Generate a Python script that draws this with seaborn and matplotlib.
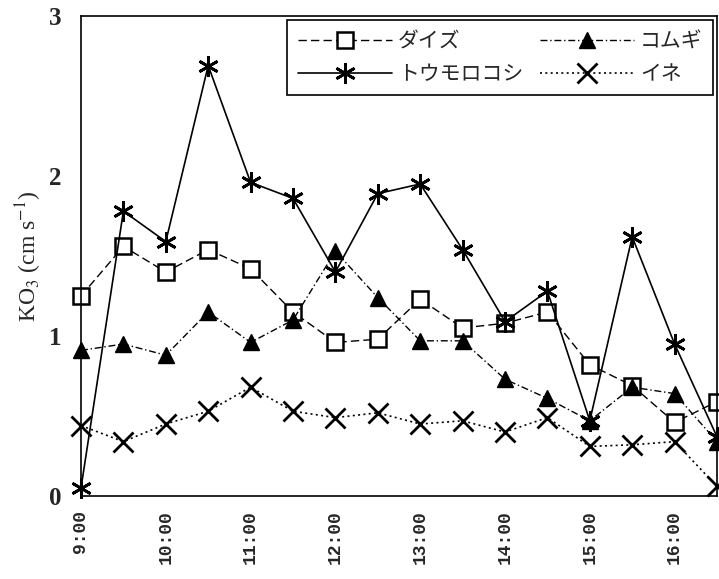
import matplotlib
matplotlib.use("Agg")
import matplotlib.pyplot as plt
import seaborn as sns
import pandas as pd

# ---- data ----
hours = [9.0, 9.5, 10.0, 10.5, 11.0, 11.5, 12.0, 12.5, 13.0, 13.5, 14.0, 14.5, 15.0, 15.5, 16.0, 16.5]
tick_hours = [9, 10, 11, 12, 13, 14, 15, 16]
tick_labels = ["9:00", "10:00", "11:00", "12:00", "13:00", "14:00", "15:00", "16:00"]
series_names = ["ダイズ", "コムギ", "トウモロコシ", "イネ"]
daizu = [1.25, 1.56, 1.40, 1.54, 1.42, 1.15, 0.96, 0.98, 1.23, 1.05, 1.08, 1.15, 0.82, 0.69, 0.46, 0.59]
komugi = [0.91, 0.95, 0.88, 1.15, 0.96, 1.10, 1.53, 1.24, 0.97, 0.97, 0.73, 0.61, 0.47, 0.68, 0.64, 0.34]
tomorokoshi = [0.05, 1.78, 1.59, 2.69, 1.96, 1.86, 1.40, 1.89, 1.95, 1.54, 1.09, 1.28, 0.47, 1.62, 0.95, 0.37]
ine = [0.44, 0.34, 0.45, 0.53, 0.68, 0.53, 0.49, 0.52, 0.45, 0.47, 0.40, 0.49, 0.31, 0.32, 0.34, 0.06]
y_ticks = [0, 1, 2, 3]

values = [daizu, komugi, tomorokoshi, ine]

sns.set_style("white")
plt.rcParams["font.family"] = ["Noto Sans CJK JP", "DejaVu Sans"]
plt.rcParams["mathtext.fontset"] = "stix"

fig = plt.figure(figsize=(7.19, 5.79), dpi=100)
ax = fig.add_axes([81 / 719, 83 / 579, 636 / 719, 480 / 579])

styles = [
    dict(linestyle=(0, (6, 3)), marker="s", markersize=11, markerfacecolor="white",
         markeredgecolor="black", markeredgewidth=1.8, linewidth=1.0),
    dict(linestyle=(0, (5, 2, 1, 2)), marker="^", markersize=11, markerfacecolor="black",
         markeredgecolor="black", markeredgewidth=1.0, linewidth=1.0),
    dict(linestyle="-", marker=(6, 2, 0), markersize=15, markerfacecolor="black",
         markeredgecolor="black", markeredgewidth=2.0, linewidth=1.2),
    dict(linestyle=(0, (1.2, 2)), marker="x", markersize=14, markerfacecolor="black",
         markeredgecolor="black", markeredgewidth=2.0, linewidth=1.2),
]

for name, vals, st in zip(series_names, values, styles):
    df = pd.DataFrame({"time": hours, "KO3": vals})
    sns.lineplot(data=df, x="time", y="KO3", ax=ax, color="black", label=name,
                 clip_on=False, **st)

ax.set_xlim(9.0, 16.5)
ax.set_ylim(0, 3)
ax.set_xticks(hours)
ax.set_xticklabels([tick_labels[tick_hours.index(int(h))] if float(h).is_integer() else "" for h in hours],
                   rotation=90, family="Liberation Mono", fontweight="bold", fontsize=13)
ax.set_yticks(y_ticks)
ax.set_yticklabels([str(v) for v in y_ticks], family="Liberation Serif", fontweight="bold", fontsize=18)
ax.tick_params(axis="both", direction="in", length=6, width=1, color="black")
ax.tick_params(axis="y", pad=14)
ax.tick_params(axis="x", pad=10)
ax.set_xlabel("")
ax.set_ylabel("KO$_3$ (cm s$^{-1}$)", family="Liberation Serif", fontsize=17, labelpad=4)
for sp in ax.spines.values():
    sp.set_visible(True)
    sp.set_color("black")
    sp.set_linewidth(1.2)

handles, labels = ax.get_legend_handles_labels()
order = [0, 2, 1, 3]
leg = ax.legend([handles[i] for i in order], [labels[i] for i in order],
                loc="upper right", bbox_to_anchor=(1.0, 1.0), ncol=2, frameon=True,
                fancybox=False, edgecolor="black", fontsize=15, handlelength=4.5,
                borderaxespad=0.2, columnspacing=0.8, handletextpad=0.3, labelspacing=0.5,
                borderpad=0.5)
leg.get_frame().set_linewidth(1.2)
leg.get_frame().set_alpha(1)

fig.savefig("out.png", dpi=100)
